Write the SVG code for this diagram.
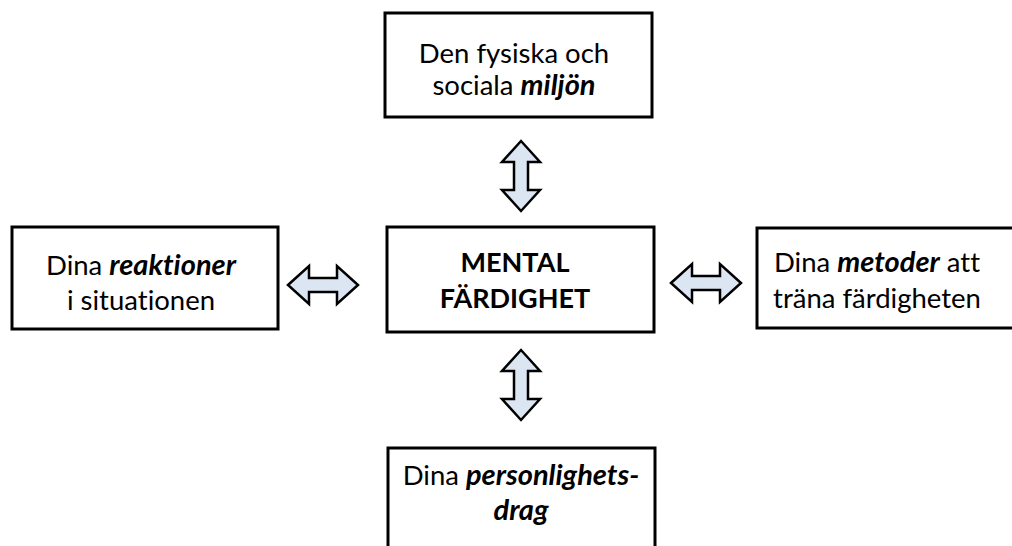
<svg xmlns="http://www.w3.org/2000/svg" width="1012" height="546" viewBox="0 0 1012 546">
<style>
.box{fill:#ffffff;stroke:#000000;stroke-width:3}
.t{font-family:Lato,"Open Sans","Liberation Sans",sans-serif;font-size:27.5px;fill:#000000;text-anchor:middle;font-variant-ligatures:none}
.b{font-weight:bold;font-size:27px}
.bi{font-weight:bold;font-style:italic;font-size:29px}
.arr{fill:#dce6f2;stroke:#000000;stroke-width:2.5;stroke-linejoin:miter}
</style>
<defs>
<path id="dbl" d="M-35,0 L-14,-19 L-14,-7 L14,-7 L14,-19 L35,0 L14,19 L14,7 L-14,7 L-14,19 Z"/>
</defs>
<rect width="1012" height="546" fill="#ffffff"/>
<g id="connectors">
<use href="#dbl" class="arr" transform="translate(521,176) rotate(90)"/>
<use href="#dbl" class="arr" transform="translate(521,385) rotate(90)"/>
<use href="#dbl" class="arr" transform="translate(323,285)"/>
<use href="#dbl" class="arr" transform="translate(706,283)"/>
</g>
<g id="node-top">
<rect class="box" x="385" y="13" width="267" height="104"/>
<text class="t" x="514" y="63">Den fysiska och</text>
<text class="t" x="514" y="95">sociala <tspan class="bi">miljön</tspan></text>
</g>
<g id="node-center">
<rect class="box" x="387" y="227" width="267" height="105"/>
<text class="t b" x="515" y="272">MENTAL</text>
<text class="t b" x="515" y="308">FÄRDIGHET</text>
</g>
<g id="node-left">
<rect class="box" x="12" y="227" width="266" height="102"/>
<text class="t" x="141" y="275">Dina <tspan class="bi">reaktioner</tspan></text>
<text class="t" x="141" y="310">i situationen</text>
</g>
<g id="node-right">
<rect class="box" x="757" y="228" width="270" height="100"/>
<text class="t" x="877" y="272">Dina <tspan class="bi">metoder</tspan> att</text>
<text class="t" x="877" y="308">träna färdigheten</text>
</g>
<g id="node-bottom">
<rect class="box" x="388" y="448" width="267" height="110"/>
<text class="t" x="521" y="485">Dina <tspan class="bi">personlighets-</tspan></text>
<text class="t" x="521" y="520"><tspan class="bi">drag</tspan></text>
</g>
</svg>
